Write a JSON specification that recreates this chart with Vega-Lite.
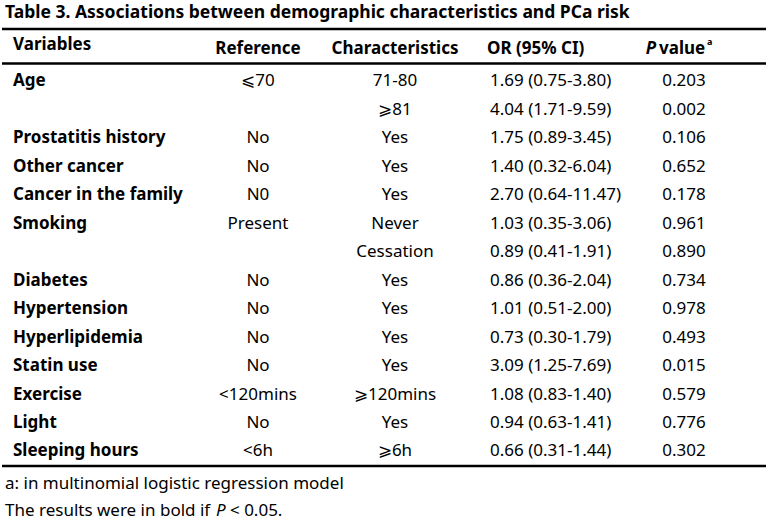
{
  "$schema": "https://vega.github.io/schema/vega-lite/v6.json",
  "width": 768,
  "height": 523,
  "autosize": {"type": "fit", "contains": "padding"},
  "padding": 0,
  "background": "white",
  "config": {
    "view": {"stroke": null},
    "text": {"font": "Noto Sans", "fontSize": 17, "fill": "black", "baseline": "alphabetic"}
  },
  "datasets": {
    "rows": [
      {"id": 1, "variable": "Age", "reference": "⩽70", "characteristic": "71-80", "or": "1.69 (0.75-3.80)", "p": "0.203"},
      {"id": 2, "variable": "", "reference": "", "characteristic": "⩾81", "or": "4.04 (1.71-9.59)", "p": "0.002"},
      {"id": 3, "variable": "Prostatitis history", "reference": "No", "characteristic": "Yes", "or": "1.75 (0.89-3.45)", "p": "0.106"},
      {"id": 4, "variable": "Other cancer", "reference": "No", "characteristic": "Yes", "or": "1.40 (0.32-6.04)", "p": "0.652"},
      {"id": 5, "variable": "Cancer in the family", "reference": "N0", "characteristic": "Yes", "or": "2.70 (0.64-11.47)", "p": "0.178"},
      {"id": 6, "variable": "Smoking", "reference": "Present", "characteristic": "Never", "or": "1.03 (0.35-3.06)", "p": "0.961"},
      {"id": 7, "variable": "", "reference": "", "characteristic": "Cessation", "or": "0.89 (0.41-1.91)", "p": "0.890"},
      {"id": 8, "variable": "Diabetes", "reference": "No", "characteristic": "Yes", "or": "0.86 (0.36-2.04)", "p": "0.734"},
      {"id": 9, "variable": "Hypertension", "reference": "No", "characteristic": "Yes", "or": "1.01 (0.51-2.00)", "p": "0.978"},
      {"id": 10, "variable": "Hyperlipidemia", "reference": "No", "characteristic": "Yes", "or": "0.73 (0.30-1.79)", "p": "0.493"},
      {"id": 11, "variable": "Statin use", "reference": "No", "characteristic": "Yes", "or": "3.09 (1.25-7.69)", "p": "0.015"},
      {"id": 12, "variable": "Exercise", "reference": "<120mins", "characteristic": "⩾120mins", "or": "1.08 (0.83-1.40)", "p": "0.579"},
      {"id": 13, "variable": "Light", "reference": "No", "characteristic": "Yes", "or": "0.94 (0.63-1.41)", "p": "0.776"},
      {"id": 14, "variable": "Sleeping hours", "reference": "<6h", "characteristic": "⩾6h", "or": "0.66 (0.31-1.44)", "p": "0.302"}
    ],
    "one": [{"k": 1}]
  },
  "data": {"name": "rows"},
  "layer": [
    {
      "data": {"name": "one"},
      "mark": {"type": "rule", "strokeWidth": 2.5, "color": "black"},
      "encoding": {
        "y": {"datum": -1.02, "type": "quantitative", "axis": null, "scale": {"domain": [-2.039, 16.337], "reverse": true, "zero": false, "nice": false}}
      }
    },
    {
      "data": {"name": "one"},
      "mark": {"type": "rule", "strokeWidth": 2.5, "color": "black"},
      "encoding": {"y": {"datum": 0.192, "type": "quantitative", "axis": null}}
    },
    {
      "data": {"name": "one"},
      "mark": {"type": "rule", "strokeWidth": 2.5, "color": "black"},
      "encoding": {"y": {"datum": 14.334, "type": "quantitative", "axis": null}}
    },
    {
      "data": {"values": [{"t": "Table 3. Associations between demographic characteristics and PCa risk"}]},
      "mark": {"type": "text", "align": "left", "fontWeight": "bold", "fontSize": 17.5, "dx": -109, "dy": 17},
      "encoding": {
        "x": {"datum": "variable", "type": "nominal", "axis": null, "scale": {"type": "point", "domain": ["variable", "reference", "characteristic", "or", "p"], "range": [112, 684], "padding": 0}},
        "y": {"datum": -2, "type": "quantitative", "axis": null},
        "text": {"field": "t"}
      }
    },
    {
      "data": {"values": [{"h": "Variables"}]},
      "mark": {"type": "text", "align": "left", "fontWeight": "bold", "dx": -101, "dy": -8.5},
      "encoding": {
        "x": {"datum": "variable", "type": "nominal", "axis": null},
        "y": {"datum": 0, "type": "quantitative", "axis": null},
        "text": {"field": "h"}
      }
    },
    {
      "data": {"values": [{"h": "Reference"}]},
      "mark": {"type": "text", "align": "center", "fontWeight": "bold", "dy": -4.5, "dx": 1},
      "encoding": {
        "x": {"datum": "reference", "type": "nominal", "axis": null},
        "y": {"datum": 0, "type": "quantitative", "axis": null},
        "text": {"field": "h"}
      }
    },
    {
      "data": {"values": [{"h": "Characteristics"}]},
      "mark": {"type": "text", "align": "center", "fontWeight": "bold", "dy": -4.5, "dx": -5},
      "encoding": {
        "x": {"datum": "characteristic", "type": "nominal", "axis": null},
        "y": {"datum": 0, "type": "quantitative", "axis": null},
        "text": {"field": "h"}
      }
    },
    {
      "data": {"values": [{"h": "OR (95% CI)"}]},
      "mark": {"type": "text", "align": "left", "fontWeight": "bold", "dx": -56, "dy": -4.5},
      "encoding": {
        "x": {"datum": "or", "type": "nominal", "axis": null},
        "y": {"datum": 0, "type": "quantitative", "axis": null},
        "text": {"field": "h"}
      }
    },
    {
      "data": {"values": [{"h": "P"}]},
      "mark": {"type": "text", "align": "right", "fontWeight": "bold", "fontStyle": "italic", "dx": -30, "dy": -4.5},
      "encoding": {
        "x": {"datum": "p", "type": "nominal", "axis": null},
        "y": {"datum": 0, "type": "quantitative", "axis": null},
        "text": {"field": "h"}
      }
    },
    {
      "data": {"values": [{"h": "value"}]},
      "mark": {"type": "text", "align": "left", "fontWeight": "bold", "dx": -27, "dy": -4.5},
      "encoding": {
        "x": {"datum": "p", "type": "nominal", "axis": null},
        "y": {"datum": 0, "type": "quantitative", "axis": null},
        "text": {"field": "h"}
      }
    },
    {
      "data": {"values": [{"h": "a"}]},
      "mark": {"type": "text", "align": "left", "fontWeight": "bold", "fontSize": 9, "dx": 21, "dy": -13},
      "encoding": {
        "x": {"datum": "p", "type": "nominal", "axis": null},
        "y": {"datum": 0, "type": "quantitative", "axis": null},
        "text": {"field": "h"}
      }
    },
    {
      "mark": {"type": "text", "align": "left", "fontWeight": "bold", "dx": -101},
      "encoding": {
        "x": {"datum": "variable", "type": "nominal", "axis": null},
        "y": {"field": "id", "type": "quantitative", "axis": null},
        "text": {"field": "variable"}
      }
    },
    {
      "mark": {"type": "text", "align": "center", "dx": 1},
      "encoding": {
        "x": {"datum": "reference", "type": "nominal", "axis": null},
        "y": {"field": "id", "type": "quantitative", "axis": null},
        "text": {"field": "reference"}
      }
    },
    {
      "mark": {"type": "text", "align": "center", "dx": -5},
      "encoding": {
        "x": {"datum": "characteristic", "type": "nominal", "axis": null},
        "y": {"field": "id", "type": "quantitative", "axis": null},
        "text": {"field": "characteristic"}
      }
    },
    {
      "mark": {"type": "text", "align": "left", "dx": -53},
      "encoding": {
        "x": {"datum": "or", "type": "nominal", "axis": null},
        "y": {"field": "id", "type": "quantitative", "axis": null},
        "text": {"field": "or"}
      }
    },
    {
      "mark": {"type": "text", "align": "center", "dx": -2},
      "encoding": {
        "x": {"datum": "p", "type": "nominal", "axis": null},
        "y": {"field": "id", "type": "quantitative", "axis": null},
        "text": {"field": "p"},
        "fontWeight": {"condition": {"test": "toNumber(datum.p) < 0.05", "value": "bold"}, "value": "normal"}
      }
    },
    {
      "data": {"values": [{"t": "a: in multinomial logistic regression model"}]},
      "mark": {"type": "text", "align": "left", "dx": -109, "dy": 3.6},
      "encoding": {
        "x": {"datum": "variable", "type": "nominal", "axis": null},
        "y": {"datum": 15, "type": "quantitative", "axis": null},
        "text": {"field": "t"}
      }
    },
    {
      "data": {"values": [{"t": "The results were in bold if"}]},
      "mark": {"type": "text", "align": "left", "dx": -109, "dy": 3},
      "encoding": {
        "x": {"datum": "variable", "type": "nominal", "axis": null},
        "y": {"datum": 16, "type": "quantitative", "axis": null},
        "text": {"field": "t"}
      }
    },
    {
      "data": {"values": [{"t": "P"}]},
      "mark": {"type": "text", "align": "left", "fontStyle": "italic", "dx": 102, "dy": 3},
      "encoding": {
        "x": {"datum": "variable", "type": "nominal", "axis": null},
        "y": {"datum": 16, "type": "quantitative", "axis": null},
        "text": {"field": "t"}
      }
    },
    {
      "data": {"values": [{"t": "< 0.05."}]},
      "mark": {"type": "text", "align": "left", "dx": 116, "dy": 3},
      "encoding": {
        "x": {"datum": "variable", "type": "nominal", "axis": null},
        "y": {"datum": 16, "type": "quantitative", "axis": null},
        "text": {"field": "t"}
      }
    }
  ]
}
